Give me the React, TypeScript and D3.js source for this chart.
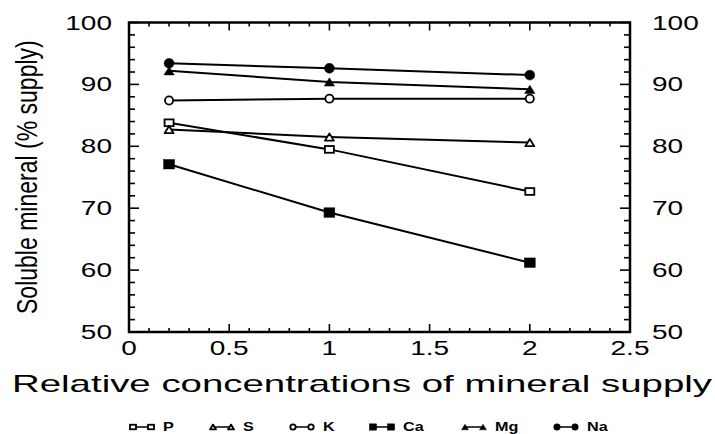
import * as d3 from 'd3';
import React from 'react';

// Relative concentration of mineral supply (x) and soluble mineral (% of supply)
const xValues = [0.2, 1, 2];
const pValues = [83.8, 79.5, 72.7];
const sValues = [82.7, 81.5, 80.6];
const kValues = [87.4, 87.7, 87.7];
const caValues = [77.1, 69.3, 61.2];
const mgValues = [92.2, 90.4, 89.2];
const naValues = [93.4, 92.6, 91.5];

const xTicks = [0, 0.5, 1, 1.5, 2, 2.5];
const yTicks = [50, 60, 70, 80, 90, 100];

const series = [
  { name: 'P', values: pValues, shape: 'square', filled: false },
  { name: 'S', values: sValues, shape: 'triangle', filled: false },
  { name: 'K', values: kValues, shape: 'circle', filled: false },
  { name: 'Ca', values: caValues, shape: 'square', filled: true },
  { name: 'Mg', values: mgValues, shape: 'triangle', filled: true },
  { name: 'Na', values: naValues, shape: 'circle', filled: true },
];

const FONT = '"Liberation Sans", Arial, sans-serif';

function Marker({ x, y, shape, filled, size }: { x: number; y: number; shape: string; filled: boolean; size: number }) {
  const fill = filled ? '#000' : '#fff';
  const sw = filled ? 0.5 : 1.8;
  if (shape === 'square') {
    const w = filled ? size * 1.2 : size;
    const h = filled ? size * 1.05 : size * 0.75;
    return <rect x={x - w / 2} y={y - h / 2} width={w} height={h} fill={fill} stroke="#000" strokeWidth={sw} />;
  }
  if (shape === 'triangle') {
    const s = filled ? size * 1.15 : size;
    const h = s * 0.8;
    const pts = `${x - s / 2},${y + h / 2} ${x + s / 2},${y + h / 2} ${x},${y - h / 2}`;
    return <polygon points={pts} fill={fill} stroke="#000" strokeWidth={sw} strokeLinejoin="round" />;
  }
  const r = filled ? size * 0.55 : size * 0.45;
  return <circle cx={x} cy={y} r={r} fill={fill} stroke="#000" strokeWidth={sw} />;
}

export default function App() {
  const width = 715;
  const height = 434;
  const x = d3.scaleLinear().domain([0, 2.5]).range([129, 630]);
  const y = d3.scaleLinear().domain([50, 100]).range([332, 22.5]);
  const line = d3
    .line<number>()
    .x((_, i) => x(xValues[i]))
    .y(d => y(d));

  const xMinor = d3.range(0, 2.5001, 0.1);
  const yMinor = d3.range(50, 100.001, 2);
  const [x0, x1] = x.range();
  const [y0, y1] = y.range();

  // legend layout
  let cursor = 130;
  const legend = series.map(s => {
    const item = { ...s, x: cursor };
    cursor += 68 + s.name.length * 12;
    return item;
  });

  return (
    <svg width={width} height={height} style={{ position: 'absolute', left: 0, top: 0, background: '#fff' }}>
      <rect width={width} height={height} fill="#fff" />

      {/* ticks */}
      <g stroke="#000" strokeWidth={1.6}>
        {yMinor.map(v => {
          const major = Math.abs(v % 10) < 1e-6;
          const len = major ? 10 : 6;
          return (
            <g key={'y' + v}>
              <line x1={x0} x2={x0 + len} y1={y(v)} y2={y(v)} />
              <line x1={x1} x2={x1 - len} y1={y(v)} y2={y(v)} />
            </g>
          );
        })}
        {xMinor.map(v => {
          const major = Math.abs((v * 2) % 1) < 1e-6 || Math.abs((v * 2) % 1 - 1) < 1e-6;
          const len = major ? 8 : 4;
          return (
            <g key={'x' + v.toFixed(1)}>
              <line x1={x(v)} x2={x(v)} y1={y0} y2={y0 - len} />
              <line x1={x(v)} x2={x(v)} y1={y1} y2={y1 + len} />
            </g>
          );
        })}
      </g>

      {/* frame */}
      <rect x={x0} y={y1} width={x1 - x0} height={y0 - y1} fill="none" stroke="#000" strokeWidth={2.5} />

      {/* y tick labels, both sides */}
      <g fontFamily={FONT} fontSize={20} fill="#000">
        {yTicks.map(v => (
          <g key={'yl' + v}>
            <text transform={`translate(${x0 - 17},${y(v) + 7}) scale(1.4,1)`} textAnchor="end">
              {v}
            </text>
            <text transform={`translate(${x1 + 22},${y(v) + 7}) scale(1.4,1)`} textAnchor="start">
              {v}
            </text>
          </g>
        ))}
        {xTicks.map(v => (
          <text key={'xl' + v} transform={`translate(${x(v)},${y0 + 23}) scale(1.4,1)`} textAnchor="middle">
            {v}
          </text>
        ))}
      </g>

      {/* axis titles */}
      <text
        fontFamily={FONT}
        fontSize={24}
        x={12}
        y={392}
        textLength={700}
        lengthAdjust="spacingAndGlyphs"
      >
        Relative concentrations of mineral supply
      </text>
      <text
        fontFamily={FONT}
        fontSize={29}
        transform="translate(37,314) rotate(-90) scale(0.794,1)"
      >
        Soluble mineral (% supply)
      </text>

      {/* series */}
      {series.map(s => (
        <g key={s.name}>
          <path d={line(s.values) ?? ''} fill="none" stroke="#000" strokeWidth={2} />
          {s.values.map((v, i) => (
            <Marker key={i} x={x(xValues[i])} y={y(v)} shape={s.shape} filled={s.filled} size={9} />
          ))}
        </g>
      ))}

      {/* legend */}
      <g fontFamily={FONT} fontSize={12} fontWeight="bold">
        {legend.map(l => (
          <g key={'lg' + l.name}>
            <line x1={l.x + 3} x2={l.x + 21} y1={427} y2={427} stroke="#000" strokeWidth={1.5} />
            <Marker x={l.x + 3} y={427} shape={l.shape} filled={l.filled} size={6} />
            <Marker x={l.x + 21} y={427} shape={l.shape} filled={l.filled} size={6} />
            <text transform={`translate(${l.x + 33},431) scale(1.35,1)`}>{l.name}</text>
          </g>
        ))}
      </g>
    </svg>
  );
}
